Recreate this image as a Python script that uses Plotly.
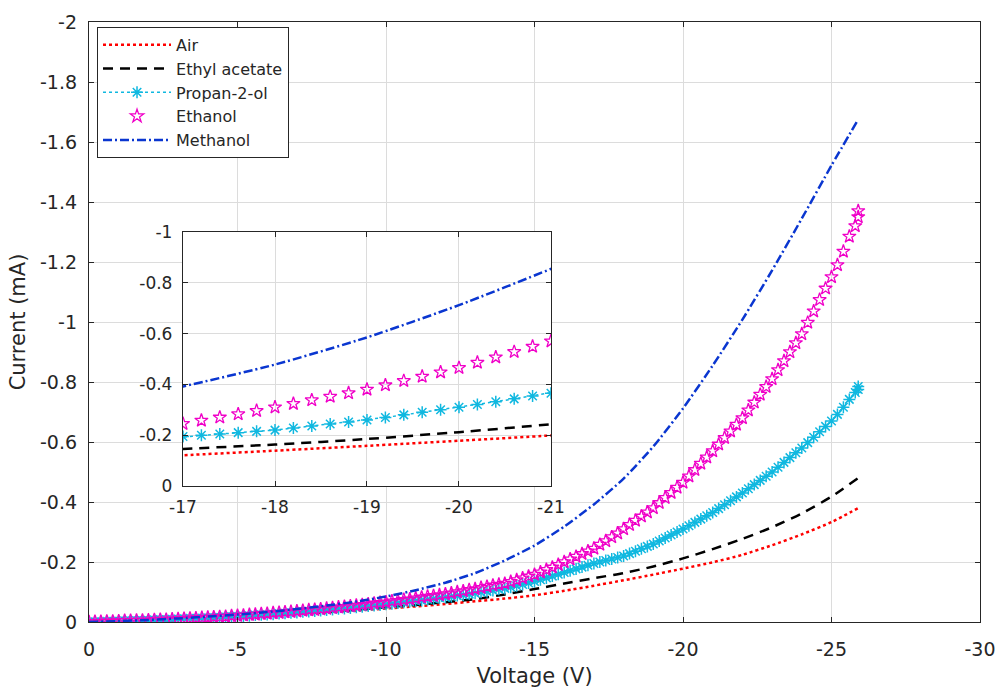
import plotly.graph_objects as go

# ---------------- data ----------------
# coarse voltage grid for the line-only series (V)
voltage_coarse = [0, -1, -2, -3, -4, -5, -6, -7, -8, -9, -10, -11, -12, -13, -14,
                  -15, -16, -17, -18, -19, -20, -21, -22, -23, -24, -25, -25.9]

air = [0, -0.002, -0.005, -0.008, -0.012, -0.016, -0.021, -0.026, -0.032, -0.038,
       -0.045, -0.052, -0.060, -0.069, -0.078, -0.089, -0.104, -0.121, -0.139, -0.158,
       -0.178, -0.199, -0.224, -0.256, -0.292, -0.333, -0.380]

ethyl_acetate = [0, -0.002, -0.005, -0.008, -0.012, -0.017, -0.022, -0.028, -0.034, -0.041,
                 -0.049, -0.057, -0.066, -0.076, -0.092, -0.110, -0.128, -0.146, -0.163, -0.185,
                 -0.212, -0.243, -0.277, -0.316, -0.362, -0.418, -0.480]

methanol = [0, -0.003, -0.007, -0.012, -0.018, -0.025, -0.033, -0.043, -0.055, -0.068,
            -0.085, -0.106, -0.131, -0.163, -0.205, -0.255, -0.318, -0.392, -0.478, -0.585,
            -0.712, -0.855, -1.008, -1.172, -1.345, -1.522, -1.675]

# fine voltage grid for the marker series (V)
voltage_fine = [
    0, -0.2, -0.4, -0.6, -0.8, -1, -1.2, -1.4, -1.6, -1.8,
    -2, -2.2, -2.4, -2.6, -2.8, -3, -3.2, -3.4, -3.6, -3.8,
    -4, -4.2, -4.4, -4.6, -4.8, -5, -5.2, -5.4, -5.6, -5.8,
    -6, -6.2, -6.4, -6.6, -6.8, -7, -7.2, -7.4, -7.6, -7.8,
    -8, -8.2, -8.4, -8.6, -8.8, -9, -9.2, -9.4, -9.6, -9.8,
    -10, -10.2, -10.4, -10.6, -10.8, -11, -11.2, -11.4, -11.6, -11.8,
    -12, -12.2, -12.4, -12.6, -12.8, -13, -13.2, -13.4, -13.6, -13.8,
    -14, -14.2, -14.4, -14.6, -14.8, -15, -15.2, -15.4, -15.6, -15.8,
    -16, -16.2, -16.4, -16.6, -16.8, -17, -17.2, -17.4, -17.6, -17.8,
    -18, -18.2, -18.4, -18.6, -18.8, -19, -19.2, -19.4, -19.6, -19.8,
    -20, -20.2, -20.4, -20.6, -20.8, -21, -21.2, -21.4, -21.6, -21.8,
    -22, -22.2, -22.4, -22.6, -22.8, -23, -23.2, -23.4, -23.6, -23.8,
    -24, -24.2, -24.4, -24.6, -24.8, -25, -25.2, -25.4, -25.6,
    -25.8, -25.9, -25.9]

propan_2_ol = [
    0, -0.001, -0.001, -0.002, -0.002, -0.003, -0.004, -0.004, -0.005, -0.005,
    -0.006, -0.007, -0.008, -0.008, -0.009, -0.010, -0.011, -0.012, -0.012, -0.013,
    -0.014, -0.015, -0.016, -0.017, -0.018, -0.019, -0.020, -0.021, -0.023, -0.024,
    -0.025, -0.026, -0.028, -0.029, -0.031, -0.032, -0.034, -0.035, -0.037, -0.038,
    -0.040, -0.042, -0.044, -0.045, -0.047, -0.049, -0.051, -0.053, -0.055, -0.057,
    -0.059, -0.061, -0.063, -0.066, -0.068, -0.070, -0.072, -0.075, -0.077, -0.080,
    -0.082, -0.085, -0.088, -0.090, -0.093, -0.096, -0.099, -0.102, -0.105, -0.109,
    -0.112, -0.116, -0.121, -0.125, -0.130, -0.135, -0.141, -0.147, -0.153, -0.159,
    -0.165, -0.171, -0.177, -0.183, -0.189, -0.195, -0.200, -0.205, -0.210, -0.215,
    -0.220, -0.228, -0.236, -0.244, -0.252, -0.260, -0.270, -0.280, -0.290, -0.300,
    -0.310, -0.321, -0.332, -0.343, -0.354, -0.365, -0.378, -0.391, -0.404, -0.417,
    -0.430, -0.444, -0.458, -0.472, -0.486, -0.500, -0.516, -0.532, -0.548, -0.564,
    -0.580, -0.598, -0.616, -0.634, -0.652, -0.670, -0.692, -0.716, -0.742,
    -0.765, -0.775, -0.785]

ethanol = [
    0, -0.001, -0.001, -0.002, -0.002, -0.003, -0.004, -0.004, -0.005, -0.005,
    -0.006, -0.007, -0.008, -0.008, -0.009, -0.010, -0.011, -0.012, -0.013, -0.014,
    -0.015, -0.016, -0.017, -0.018, -0.020, -0.021, -0.022, -0.024, -0.025, -0.027,
    -0.028, -0.030, -0.031, -0.033, -0.034, -0.036, -0.038, -0.040, -0.041, -0.043,
    -0.045, -0.047, -0.049, -0.051, -0.053, -0.055, -0.057, -0.059, -0.062, -0.064,
    -0.066, -0.069, -0.071, -0.074, -0.076, -0.079, -0.082, -0.085, -0.087, -0.090,
    -0.093, -0.096, -0.100, -0.103, -0.107, -0.110, -0.114, -0.118, -0.122, -0.125,
    -0.128, -0.134, -0.140, -0.146, -0.152, -0.158, -0.166, -0.174, -0.182, -0.191,
    -0.200, -0.209, -0.218, -0.227, -0.236, -0.245, -0.258, -0.270, -0.283, -0.296,
    -0.310, -0.324, -0.338, -0.352, -0.366, -0.380, -0.397, -0.414, -0.431, -0.448,
    -0.465, -0.486, -0.507, -0.528, -0.549, -0.570, -0.592, -0.614, -0.636, -0.658,
    -0.680, -0.706, -0.732, -0.758, -0.784, -0.810, -0.840, -0.870, -0.900, -0.930,
    -0.960, -0.998, -1.036, -1.074, -1.112, -1.150, -1.190, -1.235, -1.285,
    -1.320, -1.350, -1.370]

# tick labels
main_x_ticks = [0, -5, -10, -15, -20, -25, -30]
main_y_ticks = [0, -0.2, -0.4, -0.6, -0.8, -1, -1.2, -1.4, -1.6, -1.8, -2]
inset_x_ticks = [-17, -18, -19, -20, -21]
inset_y_ticks = [0, -0.2, -0.4, -0.6, -0.8, -1]

# ---------------- styles ----------------
RED = "#ff0000"
BLACK = "#000000"
CYAN = "#10b8e0"
MAGENTA = "#f000c8"
BLUE = "#0a36d0"
FONT = "DejaVu Sans"
TXT = "#262626"


def lab(v):
    return "%g" % v


fig = go.Figure()


def add_series(xa, ya, show):
    fig.add_trace(go.Scatter(x=voltage_coarse, y=air, mode="lines", name="Air",
                             line=dict(color=RED, width=2.5, dash="dot", shape="spline", smoothing=0.6),
                             xaxis=xa, yaxis=ya, showlegend=show, legendgroup="a"))
    fig.add_trace(go.Scatter(x=voltage_coarse, y=ethyl_acetate, mode="lines", name="Ethyl acetate",
                             line=dict(color=BLACK, width=2.5, dash="10px,7px", shape="spline", smoothing=0.6),
                             xaxis=xa, yaxis=ya, showlegend=show, legendgroup="b"))
    fig.add_trace(go.Scatter(x=voltage_fine, y=propan_2_ol, mode="lines+markers", name="Propan-2-ol",
                             line=dict(color=CYAN, width=1.5, dash="dot"),
                             marker=dict(symbol="asterisk-open", size=10,
                                         line=dict(color=CYAN, width=1.5), color=CYAN),
                             xaxis=xa, yaxis=ya, showlegend=show, legendgroup="c"))
    fig.add_trace(go.Scatter(x=voltage_fine, y=ethanol, mode="markers", name="Ethanol",
                             marker=dict(symbol="star-open", size=10,
                                         line=dict(color=MAGENTA, width=1.3), color=MAGENTA),
                             xaxis=xa, yaxis=ya, showlegend=show, legendgroup="d"))
    fig.add_trace(go.Scatter(x=voltage_coarse, y=methanol, mode="lines", name="Methanol",
                             line=dict(color=BLUE, width=2.5, dash="9px,3px,2px,3px", shape="spline", smoothing=0.6),
                             xaxis=xa, yaxis=ya, showlegend=show, legendgroup="e"))


add_series("x", "y", True)
add_series("x2", "y2", False)


def axis_common(size, standoff):
    return dict(showline=True, linecolor=TXT, linewidth=1.3, mirror="ticks",
                ticks="inside", ticklen=5, tickcolor=TXT, automargin=False,
                showgrid=True, gridcolor="#dcdcdc", gridwidth=1, zeroline=False,
                ticklabelstandoff=standoff,
                tickfont=dict(family=FONT, size=size, color=TXT))


fig.update_layout(
    width=998, height=688,
    margin=dict(l=89, r=18, t=22, b=66),
    paper_bgcolor="white", plot_bgcolor="white",
    font=dict(family=FONT, size=16, color=TXT),
    xaxis=dict(domain=[0, 1], range=[0, -30], tickmode="array", tickvals=main_x_ticks,
               ticktext=[lab(v) for v in main_x_ticks],
               title=dict(text="Voltage (V)", font=dict(family=FONT, size=21, color=TXT), standoff=11),
               anchor="y", **axis_common(19, 10)),
    yaxis=dict(domain=[0, 1], range=[0, -2], tickmode="array", tickvals=main_y_ticks,
               ticktext=[lab(v) for v in main_y_ticks],
               title=dict(text="Current (mA)", font=dict(family=FONT, size=21, color=TXT), standoff=8),
               anchor="x", **axis_common(19, 7)),
    xaxis2=dict(domain=[0.1055, 0.5185], range=[-17, -21], tickmode="array", tickvals=inset_x_ticks,
                ticktext=[lab(v) for v in inset_x_ticks], anchor="y2", **axis_common(17, 5)),
    yaxis2=dict(domain=[0.2267, 0.65], range=[0, -1], tickmode="array", tickvals=inset_y_ticks,
                ticktext=[lab(v) for v in inset_y_ticks], anchor="x2", **axis_common(17, 6)),
    legend=dict(x=0.009, y=0.992, xanchor="left", yanchor="top",
                bgcolor="white", bordercolor=TXT, borderwidth=1,
                font=dict(family=FONT, size=16, color=TXT),
                tracegroupgap=0, itemwidth=68),
    showlegend=True,
)

fig.write_html("out.html", config={"displayModeBar": False},
               post_script="document.body.style.margin='0';")
